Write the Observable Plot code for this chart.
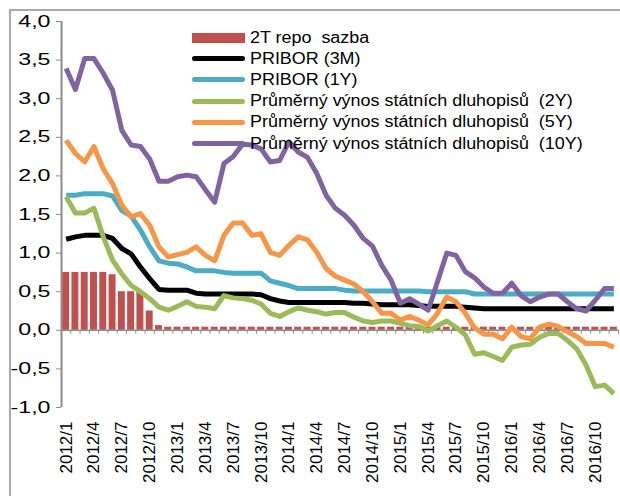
<!DOCTYPE html>
<html><head><meta charset="utf-8">
<script src="https://cdn.jsdelivr.net/npm/d3@7"></script>
<script src="https://cdn.jsdelivr.net/npm/@observablehq/plot@0.6"></script>
<style>
body{margin:0;background:#fff;font-family:"Liberation Sans",Arial,sans-serif;}
#wrap{position:relative;width:620px;height:496px;overflow:hidden;}
#border{position:absolute;left:9px;top:9px;width:800px;height:800px;border-top:2px solid #a9a9a9;border-left:2px solid #a9a9a9;pointer-events:none;}
#legend{position:absolute;left:192px;top:27px;font-size:16px;color:#000;}
.row{display:flex;align-items:center;height:21.2px;white-space:pre;}
.sw{width:53px;margin-right:5px;flex:none;}
.lt{display:inline-block;transform:scaleX(1.12);transform-origin:left center;}
</style>
</head><body>
<div id="wrap"><div id="chart"></div><div id="border"></div><div id="legend"></div></div>
<script>
const months = ["2012/1","2012/2","2012/3","2012/4","2012/5","2012/6","2012/7","2012/8","2012/9","2012/10","2012/11","2012/12",
"2013/1","2013/2","2013/3","2013/4","2013/5","2013/6","2013/7","2013/8","2013/9","2013/10","2013/11","2013/12",
"2014/1","2014/2","2014/3","2014/4","2014/5","2014/6","2014/7","2014/8","2014/9","2014/10","2014/11","2014/12",
"2015/1","2015/2","2015/3","2015/4","2015/5","2015/6","2015/7","2015/8","2015/9","2015/10","2015/11","2015/12",
"2016/1","2016/2","2016/3","2016/4","2016/5","2016/6","2016/7","2016/8","2016/9","2016/10","2016/11","2016/12"];
const xTickLabels = ["2012/1","2012/4","2012/7","2012/10","2013/1","2013/4","2013/7","2013/10","2014/1","2014/4","2014/7","2014/10",
"2015/1","2015/4","2015/7","2015/10","2016/1","2016/4","2016/7","2016/10"];
const yTicks = [-1,-0.5,0,0.5,1,1.5,2,2.5,3,3.5,4];

const repo = [0.75,0.75,0.75,0.75,0.75,0.72,0.5,0.5,0.5,0.25,0.06,0.04,
0.04,0.04,0.04,0.04,0.04,0.04,0.04,0.04,0.04,0.04,0.04,0.04,
0.04,0.04,0.04,0.04,0.04,0.04,0.04,0.04,0.04,0.04,0.04,0.04,
0.04,0.04,0.04,0.04,0.04,0.04,0.04,0.04,0.04,0.04,0.04,0.04,
0.04,0.04,0.04,0.04,0.04,0.04,0.04,0.04,0.04,0.04,0.04,0.04];
const pribor3m = [1.18,1.21,1.23,1.23,1.23,1.19,1.06,0.99,0.82,0.67,
0.53,0.52,0.52,0.52,0.48,0.47,0.47,0.47,0.47,0.47,
0.47,0.46,0.41,0.38,0.36,0.36,0.36,0.36,0.36,0.36,
0.36,0.35,0.35,0.34,0.33,0.33,0.33,0.33,0.32,0.31,
0.31,0.31,0.31,0.30,0.29,0.28,0.28,0.28,0.28,0.28,
0.28,0.28,0.28,0.28,0.28,0.28,0.28,0.28,0.28,0.28];
const pribor1y = [1.75,1.75,1.77,1.77,1.77,1.74,1.55,1.48,1.30,1.08,
0.90,0.87,0.86,0.82,0.77,0.77,0.77,0.75,0.74,0.74,
0.74,0.74,0.64,0.61,0.58,0.54,0.54,0.54,0.54,0.54,
0.52,0.51,0.51,0.51,0.51,0.51,0.51,0.51,0.51,0.50,
0.50,0.50,0.50,0.50,0.47,0.47,0.47,0.47,0.47,0.47,
0.47,0.47,0.47,0.47,0.47,0.47,0.47,0.47,0.47,0.47];
const bond2y = [1.73,1.52,1.52,1.58,1.21,0.91,0.73,0.58,0.50,0.41,
0.30,0.26,0.31,0.37,0.31,0.30,0.28,0.45,0.42,0.41,
0.39,0.34,0.22,0.18,0.24,0.29,0.26,0.24,0.21,0.23,
0.23,0.17,0.12,0.10,0.12,0.12,0.09,0.06,0.05,-0.01,
0.06,0.12,0.04,-0.06,-0.31,-0.29,-0.34,-0.39,-0.22,-0.19,
-0.18,-0.09,-0.04,-0.04,-0.13,-0.24,-0.45,-0.73,-0.71,-0.82];
const bond5y = [2.46,2.29,2.18,2.38,2.09,1.90,1.62,1.47,1.51,1.36,
1.08,0.95,0.98,1.01,1.08,0.97,0.90,1.23,1.39,1.39,
1.23,1.25,1.01,0.97,1.10,1.21,1.17,1.01,0.80,0.70,
0.65,0.60,0.50,0.37,0.22,0.22,0.13,0.18,0.13,0.07,
0.22,0.43,0.37,0.22,0.03,-0.05,-0.05,-0.11,0.04,-0.08,
-0.11,0.04,0.08,0.05,-0.02,-0.08,-0.17,-0.17,-0.17,-0.22];
const bond10y = [3.39,3.12,3.52,3.52,3.33,3.11,2.59,2.40,2.38,2.22,
1.93,1.93,1.99,2.01,1.99,1.82,1.66,2.16,2.25,2.41,
2.40,2.35,2.18,2.20,2.44,2.31,2.24,2.03,1.75,1.58,
1.49,1.36,1.19,1.09,0.84,0.65,0.35,0.41,0.34,0.26,
0.63,1.00,0.97,0.76,0.68,0.56,0.48,0.48,0.61,0.45,
0.37,0.43,0.47,0.47,0.37,0.28,0.25,0.39,0.54,0.54];

const seriesNames = ["2T repo  sazba","PRIBOR (3M)","PRIBOR (1Y)",
"Průměrný výnos státních dluhopisů  (2Y)","Průměrný výnos státních dluhopisů  (5Y)","Průměrný výnos státních dluhopisů  (10Y)"];
const seriesColors = ["#c0504d","#000000","#4bacc6","#9bbb59","#f79646","#8064a2"];
const lineSeries = [pribor3m, pribor1y, bond2y, bond5y, bond10y];

const barData = months.map((m,i)=>({month:m, value:repo[i]}));
const lineData = lineSeries.flatMap((arr,k)=>arr.map((v,i)=>({month:months[i], value:v, series:seriesNames[k+1]})));

const W=620,H=496, mL=61, mR=2, mT=21, mB=89;
const step = (W-mL-mR)/months.length;
const axisGray = "#8c8c8c";

const chart = Plot.plot({
  width:W, height:H, marginLeft:mL, marginRight:mR, marginTop:mT, marginBottom:mB,
  style:{fontFamily:"'Liberation Sans', Arial, sans-serif", fontSize:"16px", background:"transparent", color:"#000"},
  x:{type:"band", domain:months, paddingInner:0.25, paddingOuter:0.125, round:false, axis:null},
  y:{domain:[-1,4], axis:null},
  color:{domain:seriesNames, range:seriesColors},
  marks:[
    Plot.barY(barData,{x:"month", y:"value", fill:seriesColors[0]}),
    Plot.ruleY([0],{stroke:axisGray, strokeWidth:1.5}),
    Plot.ruleX(months,{x:d=>d, y1:0, y2:-0.05, dx:-step/2, stroke:axisGray, strokeWidth:1}),
    Plot.ruleX([months[months.length-1]],{x:d=>d, y1:0, y2:-0.05, dx:step/2, stroke:axisGray, strokeWidth:1}),
    Plot.ruleX([months[0]],{x:d=>d, y1:-1, y2:4, dx:-step/2, stroke:axisGray, strokeWidth:2}),
    Plot.line(lineData,{x:"month", y:"value", z:"series", stroke:"series", strokeWidth:5, strokeLinejoin:"round", strokeLinecap:"butt"}),
    Plot.axisY({ticks:yTicks, tickFormat:d=>d.toFixed(1).replace(".",","), tickSize:5, tickPadding:6, stroke:axisGray, fill:"#000", fontSize:16, label:null}),
    Plot.text(xTickLabels,{x:d=>d, text:d=>d, frameAnchor:"bottom", rotate:-90, textAnchor:"end", lineAnchor:"middle", dy:14, fontSize:17, fill:"#000"})
  ]
});
document.getElementById("chart").appendChild(chart);

// widen the y tick lettering as in the reference
const svg = chart.tagName.toLowerCase()==="svg" ? chart : chart.querySelector("svg");
const yg = svg.querySelector('g[aria-label="y-axis tick label"]');
if (yg) {
  yg.querySelectorAll("text").forEach(t=>{
    const tr = t.getAttribute("transform");
    if (tr) t.setAttribute("transform", tr + " scale(1.45,1)");
    else {
      const x = +t.getAttribute("x")||0, y = +t.getAttribute("y")||0;
      t.setAttribute("transform", `translate(${x},${y}) scale(1.45,1) translate(${-x},${-y})`);
    }
  });
}

const legend = document.getElementById("legend");
seriesNames.forEach((name,k)=>{
  const row = document.createElement("div"); row.className="row";
  const sw = document.createElement("span"); sw.className="sw";
  sw.style.background = seriesColors[k];
  if(k===0){ sw.style.height="10px"; } else { sw.style.height="5px"; sw.style.borderRadius="3px"; }
  const t = document.createElement("span"); t.className="lt"; t.textContent = name;
  row.appendChild(sw); row.appendChild(t); legend.appendChild(row);
});
</script>
</body></html>
